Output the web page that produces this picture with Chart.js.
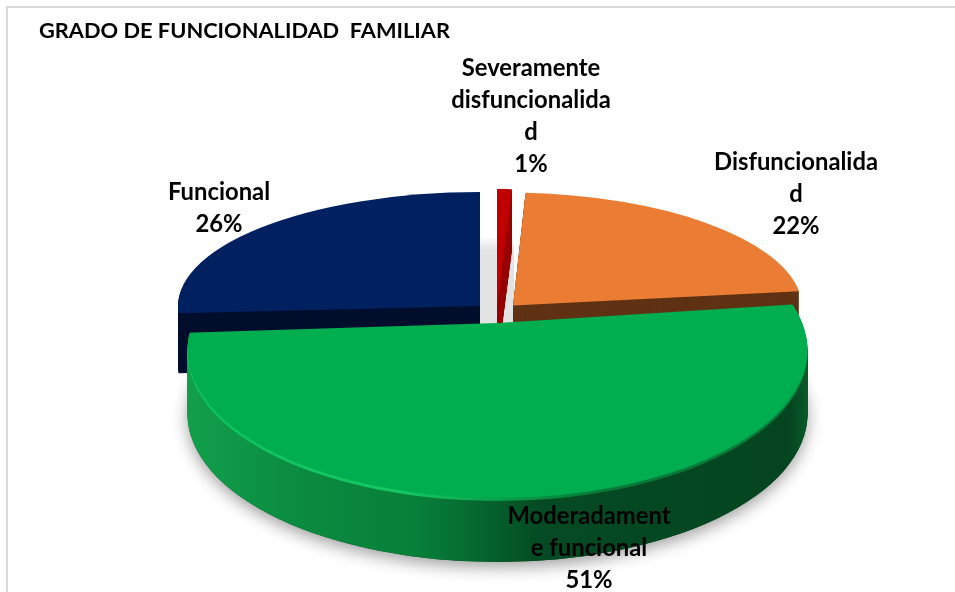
<!DOCTYPE html>
<html>
<head>
<meta charset="utf-8">
<style>
html,body{margin:0;padding:0;background:#fff;overflow:hidden}
#frame{position:absolute;left:6px;top:6px;right:0;bottom:0;border-left:2px solid #dadada;border-top:2px solid #dadada}
canvas{position:absolute;left:0;top:0}
</style>
<script src="https://cdn.jsdelivr.net/npm/chart.js@4"></script>
</head>
<body>
<div id="frame"></div>
<canvas id="c" width="955" height="592"></canvas>
<script>
const titleText = 'GRADO DE FUNCIONALIDAD  FAMILIAR';
const categories = ['Severamente disfuncionalidad', 'Disfuncionalidad', 'Moderadamente funcional', 'Funcional'];
const percentages = [1, 22, 51, 26];
const labelLines = [
  ['Severamente', 'disfuncionalida', 'd'],
  ['Disfuncionalida', 'd'],
  ['Moderadament', 'e funcional'],
  ['Funcional']
];
const sliceColors = ['#C00000', '#EA7D33', '#00AE50', '#002060'];

const BASE_RADIUS = 300;
const FONT = 'Lato, "Open Sans", sans-serif';

// Perspective view of each slice (drawn through the ArcElement, in this order)
const views = {
  3: {x: 480, y: 306, rx: 302, ry: 114, depth: 60, wall: '#000E2C'},
  0: {x: 497, y: 306, rx: 240, ry: 117, depth: 60, wall: '#980000'},
  1: {x: 513, y: 305.5, rx: 289, ry: 113, skew: 0.05, depth: 60, wall: '#5F3213'},
  2: {x: 497.5, y: 323, rx: 380, ry: 190, depth: 64,
      clip: {cx: 497.5, cy: 350, rx: 310, ry: 148}}
};
const drawOrder = [3, 0, 1, 2];
const labelPlaces = {
  0: {x: 531, y: 68}, 1: {x: 796, y: 162}, 2: {x: 589, y: 516}, 3: {x: 219, y: 192}
};
const LINE_STEP = 32;

function localX(arc, v, sx) { return arc.x + (sx - v.x) * BASE_RADIUS / v.rx; }

function paintArc(ctx, arc, v, fill, dy) {
  ctx.save();
  if (v.clip) {
    ctx.beginPath();
    ctx.ellipse(v.clip.cx, v.clip.cy + dy, v.clip.rx, v.clip.ry, 0, 0, Math.PI * 2);
    ctx.clip();
  }
  ctx.translate(v.x, v.y + dy);
  if (v.skew) ctx.transform(1, 0, v.skew, 1, 0, 0);
  ctx.scale(v.rx / BASE_RADIUS, v.ry / BASE_RADIUS);
  ctx.translate(-arc.x, -arc.y);
  const original = arc.options;
  arc.options = Object.assign(Object.create(original), {backgroundColor: fill, borderWidth: 0});
  arc.draw(ctx);
  arc.options = original;
  ctx.restore();
}

function hGradient(ctx, arc, v, stops) {
  const x0 = 180, x1 = 815;
  const g = ctx.createLinearGradient(localX(arc, v, x0), 0, localX(arc, v, x1), 0);
  stops.forEach(s => g.addColorStop((s[0] - x0) / (x1 - x0), s[1]));
  return g;
}

const pie3d = {
  id: 'pie3d',
  beforeDatasetsDraw(chart) {
    const ctx = chart.ctx;
    const arcs = chart.getDatasetMeta(0).data;

    // soft shadow under the tall front slice
    const mv = views[2].clip;
    ctx.save();
    ctx.beginPath();
    ctx.rect(0, 372, 955, 220);
    ctx.clip();
    ctx.shadowColor = 'rgba(0,0,0,0.38)';
    ctx.shadowBlur = 16;
    ctx.shadowOffsetY = 5;
    ctx.shadowOffsetX = 0;
    ctx.fillStyle = '#05451f';
    ctx.beginPath();
    ctx.ellipse(mv.cx, mv.cy + views[2].depth, mv.rx, mv.ry, 0, 0, Math.PI * 2);
    ctx.fill();
    ctx.restore();

    // grey core visible through the gaps between the back slices
    const core = ctx.createLinearGradient(0, 236, 0, 250);
    core.addColorStop(0, '#ffffff');
    core.addColorStop(1, '#e3e3e3');
    ctx.fillStyle = core;
    ctx.fillRect(480, 236, 34, 92);

    drawOrder.forEach(i => {
      const v = views[i], arc = arcs[i];
      let wall = v.wall;
      let rim = null;
      if (i === 2) {
        wall = hGradient(ctx, arc, v, [
          [180, '#12A04C'], [300, '#0B8B40'], [420, '#077F39'], [490, '#05622C'],
          [540, '#044A22'], [790, '#04451F'], [808, '#0A5A2A'], [815, '#0A5A2A']
        ]);
        rim = hGradient(ctx, arc, v, [
          [180, '#0CC45E'], [400, '#16C865'], [500, '#07A048'], [600, '#067A38'],
          [800, '#087A3A'], [815, '#087A3A']
        ]);
      }
      for (let d = v.depth; d >= 1; d--) {
        paintArc(ctx, arc, v, (rim && d <= 3) ? rim : wall, d);
      }
      paintArc(ctx, arc, v, sliceColors[i], 0);
    });
    return false;
  },
  afterDraw(chart) {
    const ctx = chart.ctx;
    ctx.save();
    ctx.fillStyle = '#000';
    ctx.font = 'bold 23.8px ' + FONT;
    ctx.textAlign = 'center';
    ctx.textBaseline = 'middle';
    labelLines.forEach((lines, i) => {
      const p = labelPlaces[i];
      lines.concat([percentages[i] + '%']).forEach((t, n) => {
        ctx.fillText(t, p.x, p.y + n * LINE_STEP);
      });
    });
    ctx.restore();
  }
};

new Chart(document.getElementById('c'), {
  type: 'pie',
  data: {
    labels: categories,
    datasets: [{data: percentages, backgroundColor: sliceColors, borderWidth: 0, radius: BASE_RADIUS, clip: false}]
  },
  options: {
    responsive: false,
    animation: false,
    events: [],
    rotation: 0,
    layout: {padding: {left: 39, top: 0}},
    plugins: {
      legend: {display: false},
      tooltip: {enabled: false},
      title: {
        display: true,
        text: titleText,
        align: 'start',
        color: '#000',
        font: {family: FONT, size: 21.8, weight: 'bold'},
        padding: {top: 18, bottom: 0}
      }
    }
  },
  plugins: [pie3d]
});
</script>
</body>
</html>
